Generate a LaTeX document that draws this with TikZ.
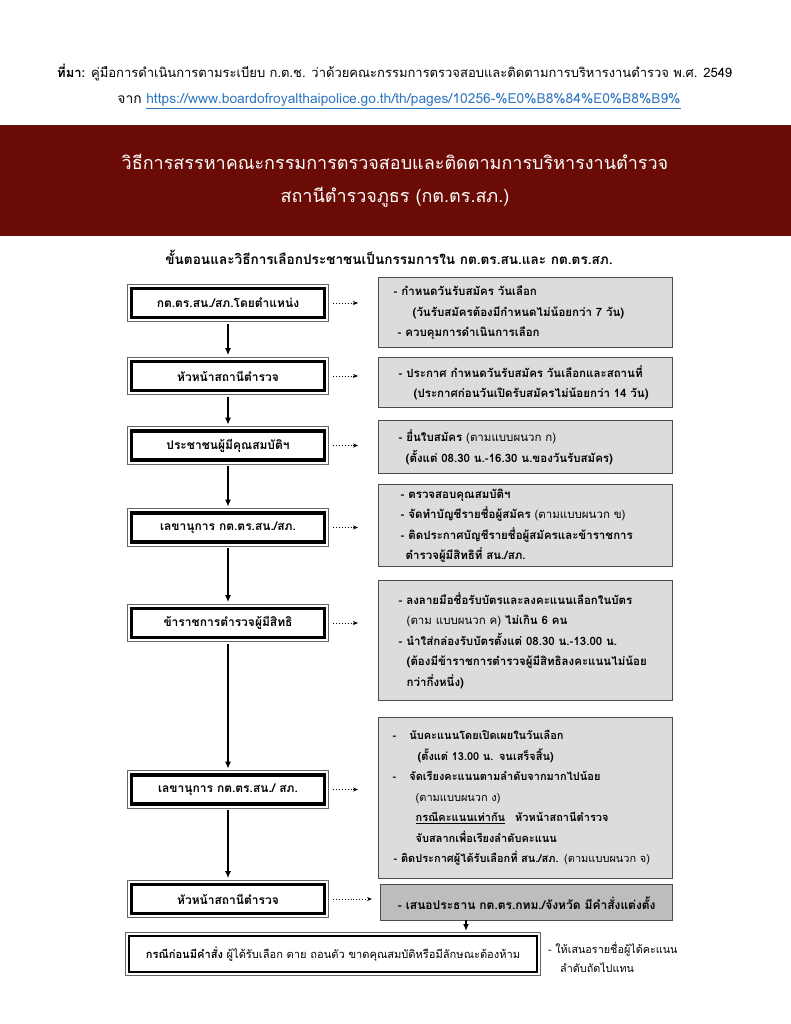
\documentclass[tikz,border=0pt]{standalone}
\usepackage{fontspec}
\setmainfont{Loma}[Script=Thai]
\usetikzlibrary{arrows.meta}
\definecolor{banner}{HTML}{6B0B05}
\definecolor{linkblue}{HTML}{2F75C0}
\definecolor{rfill}{HTML}{DCDCDC}
\definecolor{rfilldark}{HTML}{BDBDBD}
\begin{document}
\begin{tikzpicture}[x=1pt,y=-1pt,
 lbox/.style={draw=black, line width=3.2pt, fill=white, minimum width=193pt, minimum height=29pt, inner sep=0pt,
   font=\bfseries\fontsize{12}{14}\selectfont,
   preaction={draw=black!60, line width=9.4pt}, preaction={draw=white, line width=7.4pt}},
 bbox/.style={draw=black, line width=2pt, fill=white, minimum width=408pt, minimum height=36pt, inner sep=0pt,
   font=\fontsize{11.1}{14}\selectfont,
   preaction={draw=black!60, line width=8pt}, preaction={draw=white, line width=6pt}},
 rbox/.style={draw=black!70, line width=1.4pt, fill=rfill, anchor=north west, inner xsep=8pt, inner ysep=0pt,
   text width=278pt, align=left, font=\bfseries\fontsize{11.5}{20.5}\selectfont},
 flow/.style={line width=2.2pt, -{Latex[length=7pt,width=6pt]}},
 dots/.style={dotted, line width=0.9pt, -{Stealth[length=5pt,width=4pt]}},
 ]
\useasboundingbox (0,0) rectangle (791,1024);
% header
\node[anchor=west, inner sep=0pt, font=\fontsize{13}{16}\selectfont] (src) at (57,73)
  {\textbf{ที่มา:} คู่มือการดำเนินการตามระเบียบ ก.ต.ช. ว่าด้วยคณะกรรมการตรวจสอบและติดตามการบริหารงานตำรวจ พ.ศ. 2549};
\node[inner sep=0pt, font=\fontsize{13.8}{16}\selectfont] (url) at (399,101)
  {จาก \textcolor{linkblue}{\underline{https://www.boardofroyalthaipolice.go.th/th/pages/10256-\%E0\%B8\%84\%E0\%B8\%B9\%}}};
% banner
\fill[banner] (0,125) rectangle (791,236);
\node[text=white, font=\fontsize{18}{22}\selectfont] (t1) at (395,162) {วิธีการสรรหาคณะกรรมการตรวจสอบและติดตามการบริหารงานตำรวจ};
\node[text=white, font=\fontsize{18}{22}\selectfont] (t2) at (395,197) {สถานีตำรวจภูธร (กต.ตร.สภ.)};
% subtitle
\node[font=\bfseries\fontsize{13.6}{16}\selectfont] (sub) at (389,257) {ขั้นตอนและวิธีการเลือกประชาชนเป็นกรรมการใน กต.ตร.สน.และ กต.ตร.สภ.};
% left boxes
\node[lbox] (l1) at (228,303) {กต.ตร.สน./สภ.โดยตำแหน่ง};
\node[lbox] (l2) at (228,376) {หัวหน้าสถานีตำรวจ};
\node[lbox] (l3) at (228,445.5) {ประชาชนผู้มีคุณสมบัติฯ};
\node[lbox] (l4) at (228,527.5) {เลขานุการ กต.ตร.สน./สภ.};
\node[lbox] (l5) at (228,623) {ข้าราชการตำรวจผู้มีสิทธิ};
\node[lbox] (l6) at (228,789.5) {เลขานุการ กต.ตร.สน./ สภ.};
\node[lbox] (l7) at (228,899) {หัวหน้าสถานีตำรวจ};
\foreach \a/\b in {l1/l2,l2/l3,l3/l4,l4/l5,l5/l6,l6/l7}
  \draw[flow, shorten <=4.7pt, shorten >=4.7pt] (\a) -- (\b);
% right boxes
\node[rbox, minimum height=70pt] (r1) at (378,277)
 {\hspace*{7pt}- กำหนดวันรับสมัคร วันเลือก\\
  \hspace*{26pt}(วันรับสมัครต้องมีกำหนดไม่น้อยกว่า 7 วัน)\\
  \hspace*{11pt}- ควบคุมการดำเนินการเลือก};
\node[rbox, minimum height=50pt] (r2) at (378,357)
 {\hspace*{12pt}- ประกาศ กำหนดวันรับสมัคร วันเลือกและสถานที่\\
  \hspace*{27pt}(ประกาศก่อนวันเปิดรับสมัครไม่น้อยกว่า 14 วัน)};
\node[rbox, minimum height=53pt] (r3) at (378,420)
 {\hspace*{12pt}- ยื่นใบสมัคร \textmd{(ตามแบบผนวก ก)}\\
  \hspace*{19pt}(ตั้งแต่ 08.30 น.-16.30 น.ของวันรับสมัคร)};
\node[rbox, minimum height=82pt] (r4) at (378,484)
 {\hspace*{14pt}- ตรวจสอบคุณสมบัติฯ\\
  \hspace*{14pt}- จัดทำบัญชีรายชื่อผู้สมัคร \textmd{(ตามแบบผนวก ข)}\\
  \hspace*{14pt}- ติดประกาศบัญชีรายชื่อผู้สมัครและข้าราชการ\\
  \hspace*{19pt}ตำรวจผู้มีสิทธิที่ สน./สภ.};
\node[rbox, minimum height=120pt] (r5) at (378,580)
 {\hspace*{12pt}- ลงลายมือชื่อรับบัตรและลงคะแนนเลือกในบัตร\\
  \hspace*{20pt}\textmd{(ตาม แบบผนวก ค)} ไม่เกิน 6 คน\\
  \hspace*{12pt}- นำใส่กล่องรับบัตรตั้งแต่ 08.30 น.-13.00 น.\\
  \hspace*{20pt}(ต้องมีข้าราชการตำรวจผู้มีสิทธิลงคะแนนไม่น้อย\\
  \hspace*{20pt}กว่ากึ่งหนึ่ง)};
\node[rbox, minimum height=161pt, font=\bfseries\fontsize{11}{20.5}\selectfont] (r6) at (378,717)
 {\hspace*{6pt}-\hspace*{13pt}นับคะแนนโดยเปิดเผยในวันเลือก\\
  \hspace*{31pt}(ตั้งแต่ 13.00 น. จนเสร็จสิ้น)\\
  \hspace*{6pt}-\hspace*{13pt}จัดเรียงคะแนนตามลำดับจากมากไปน้อย\\
  \hspace*{29pt}\textmd{(ตามแบบผนวก ง)}\\
  \hspace*{29pt}\underline{กรณีคะแนนเท่ากัน}\hspace*{10pt}หัวหน้าสถานีตำรวจ\\
  \hspace*{29pt}จับสลากเพื่อเรียงลำดับคะแนน\\
  \hspace*{7pt}- ติดประกาศผู้ได้รับเลือกที่ สน./สภ. \textmd{(ตามแบบผนวก จ)}};
\node[rbox, fill=rfilldark, minimum height=36pt, text width=276pt, align=center,
  font=\bfseries\fontsize{12}{14}\selectfont] (r7) at (380,884)
 {- เสนอประธาน กต.ตร.กทม./จังหวัด มีคำสั่งแต่งตั้ง};
% dotted connectors
\coordinate (e1) at (358,303);
\coordinate (e2) at (358,376);
\coordinate (e3) at (358,445.5);
\coordinate (e4) at (358,527.5);
\coordinate (e5) at (358,623);
\coordinate (e6) at (358,789.5);
\coordinate (e7) at (372,899);
\foreach \i in {1,...,7}
  \draw[dots, shorten <=7pt] (l\i) -- (e\i);
% bottom
\node[bbox] (b) at (333,954) {\textbf{กรณีก่อนมีคำสั่ง} ผู้ได้รับเลือก ตาย ถอนตัว ขาดคุณสมบัติหรือมีลักษณะต้องห้าม};
\coordinate (k) at (466,920);
\draw[flow, shorten >=4pt] (k) -- (k |- b.north);
\node[anchor=west, align=left, inner sep=0pt, font=\fontsize{10.8}{19}\selectfont] (note) at (548,957)
 {- ให้เสนอรายชื่อผู้ได้คะแนน\\ \hspace*{12pt}ลำดับถัดไปแทน};
\end{tikzpicture}
\end{document}
